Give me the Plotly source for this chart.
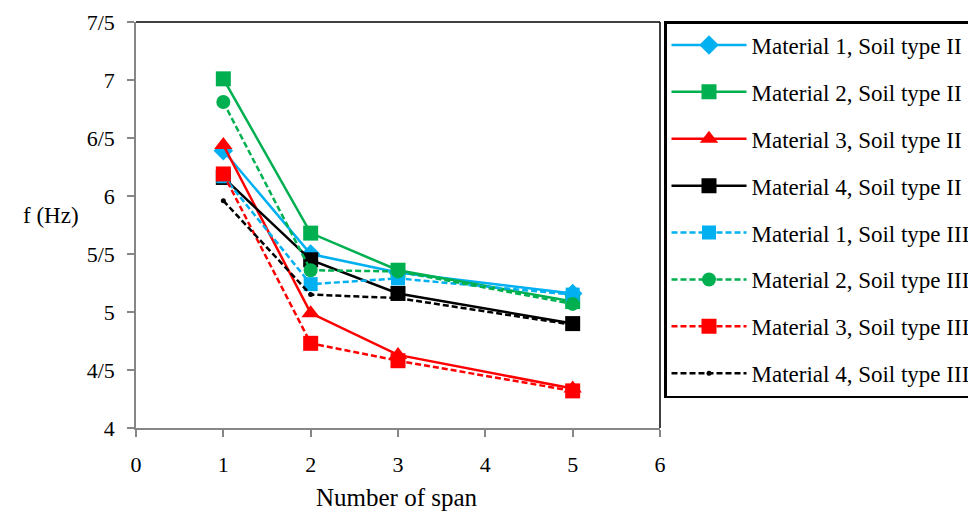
import plotly.graph_objects as go

spans = [1, 2, 3, 5]
m1_s2 = [6.39, 5.50, 5.34, 5.16]
m2_s2 = [7.01, 5.68, 5.36, 5.09]
m3_s2 = [6.44, 4.99, 4.63, 4.34]
m4_s2 = [6.16, 5.45, 5.16, 4.90]
m1_s3 = [6.17, 5.24, 5.29, 5.15]
m2_s3 = [6.81, 5.36, 5.35, 5.07]
m3_s3 = [6.19, 4.73, 4.58, 4.32]
m4_s3 = [5.96, 5.15, 5.12, 4.89]

names = ["Material 1, Soil type II", "Material 2, Soil type II", "Material 3, Soil type II",
         "Material 4, Soil type II", "Material 1, Soil type III", "Material 2, Soil type III",
         "Material 3, Soil type III", "Material 4, Soil type III"]
series = [m1_s2, m2_s2, m3_s2, m4_s2, m1_s3, m2_s3, m3_s3, m4_s3]

y_ticks = [4, 4.5, 5, 5.5, 6, 6.5, 7, 7.5]
y_ticktext = ["4", "4/5", "5", "5/5", "6", "6/5", "7", "7/5"]
x_ticks = [0, 1, 2, 3, 4, 5, 6]

BLUE = "#00B0F0"
GREEN = "#00B050"
RED = "#FF0000"
BLACK = "#000000"
styles = [
    (BLUE, "solid", "diamond", 15),
    (GREEN, "solid", "square", 15),
    (RED, "solid", "triangle-up", 16),
    (BLACK, "solid", "square", 15),
    (BLUE, "6px,3px", "square", 14),
    (GREEN, "6px,3px", "circle", 14),
    (RED, "6px,3px", "square", 15),
    (BLACK, "6px,3px", "circle", 5),
]

FONT = "Liberation Serif, Times New Roman, serif"
fig = go.Figure()
for i, (nm, ys) in enumerate(zip(names, series)):
    col, dash, sym, sz = styles[i]
    fig.add_trace(go.Scatter(
        x=spans, y=ys, name=nm, mode="lines+markers",
        line=dict(color=col, width=2.5, dash=dash),
        marker=dict(color=col, symbol=sym, size=sz, line=dict(width=0)),
        legendgroup=f"g{i}",
    ))

# page body has an 8px margin: figure starts at (8, 8)
OFF = 8
W, H = 976 - OFF, 513 - OFF
L, T = 136 - OFF, 22 - OFF
R = W - (660 - OFF)
B = H - (428 - OFF)
pw = W - L - R
ph = H - T - B

fig.update_layout(
    width=W, height=H,
    margin=dict(l=L, r=R, t=T, b=B, autoexpand=False),
    plot_bgcolor="white", paper_bgcolor="white",
    font=dict(family=FONT, size=22, color="black"),
    showlegend=True,
    legend=dict(
        x=1 + 4 / pw, y=1 + 1 / ph, xanchor="left", yanchor="top",
        bordercolor="black", borderwidth=2.5,
        font=dict(family=FONT, size=23, color="black"),
        traceorder="grouped", tracegroupgap=14,
        itemwidth=75, entrywidth=340, maxheight=470,
    ),
    xaxis=dict(range=[0, 6], tickvals=x_ticks, showgrid=False, zeroline=False,
               showline=True, linecolor="#868686", linewidth=1.5,
               ticks="outside", ticklen=7, tickcolor="#868686", tickwidth=1.5,
               ticklabelstandoff=9,
               tickfont=dict(family=FONT, size=22)),
    yaxis=dict(range=[4, 7.5], tickvals=y_ticks, ticktext=y_ticktext, showgrid=False,
               zeroline=False, showline=True, linecolor="#868686", linewidth=1.5,
               ticks="outside", ticklen=7, tickcolor="#868686", tickwidth=1.5,
               ticklabelstandoff=8,
               tickfont=dict(family=FONT, size=22)),
    shapes=[
        dict(type="line", xref="paper", yref="paper", x0=0, x1=1, y0=1, y1=1,
             line=dict(color="black", width=1.5)),
        dict(type="line", xref="paper", yref="paper", x0=1, x1=1, y0=0, y1=1,
             line=dict(color="black", width=1.5)),
    ],
    annotations=[
        dict(text="f (Hz)", xref="paper", yref="paper", x=(51 - 136) / pw, y=(428 - 215) / ph,
             showarrow=False, xanchor="center", yanchor="middle",
             font=dict(family=FONT, size=23)),
        dict(text="Number of span", xref="paper", yref="paper", x=(397 - 136) / pw,
             y=(428 - 497) / ph, showarrow=False, xanchor="center", yanchor="middle",
             font=dict(family=FONT, size=25)),
    ],
)

fig.write_html("out.html")
